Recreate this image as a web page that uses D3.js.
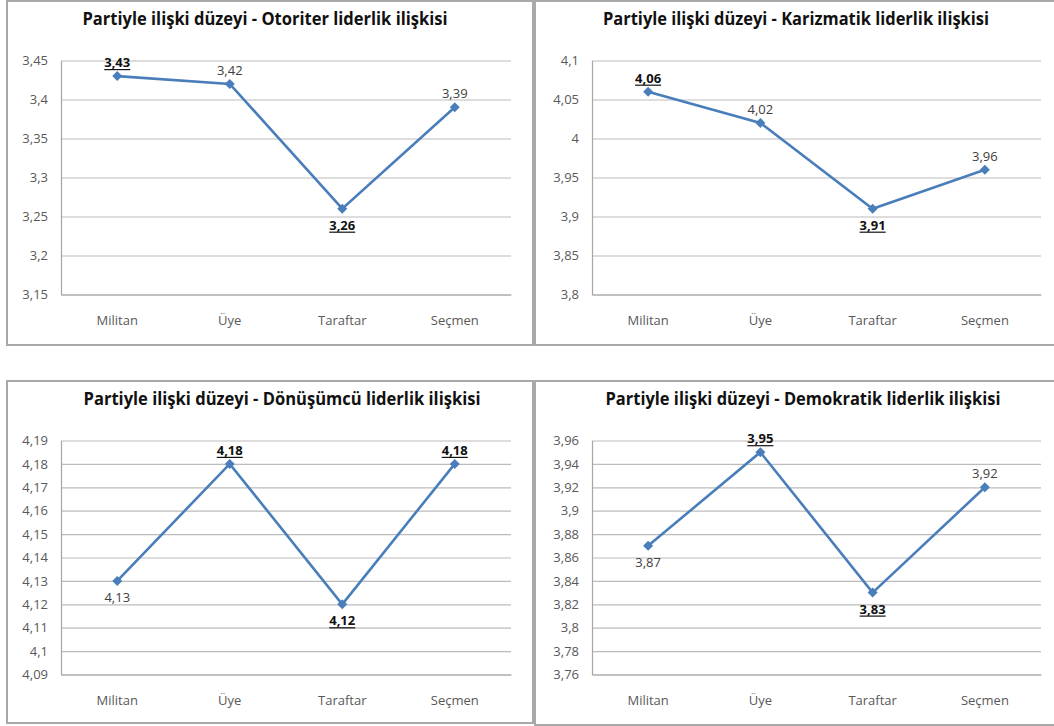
<!DOCTYPE html>
<html>
<head>
<meta charset="utf-8">
<script src="https://cdn.jsdelivr.net/npm/d3@7"></script>
<style>
  body { margin: 0; background: #fff; }
  svg { display: block; }
</style>
</head>
<body>
<svg id="chart" width="1054" height="726"></svg>
<script>
// Data
const categories = ["Militan", "Üye", "Taraftar", "Seçmen"];

const otoriterTitle = "Partiyle ilişki düzeyi - Otoriter liderlik ilişkisi";
const otoriterValues = [3.43, 3.42, 3.26, 3.39];
const otoriterTicks = [3.15, 3.2, 3.25, 3.3, 3.35, 3.4, 3.45];

const karizmatikTitle = "Partiyle ilişki düzeyi - Karizmatik liderlik ilişkisi";
const karizmatikValues = [4.06, 4.02, 3.91, 3.96];
const karizmatikTicks = [3.8, 3.85, 3.9, 3.95, 4, 4.05, 4.1];

const donusumcuTitle = "Partiyle ilişki düzeyi - Dönüşümcü liderlik ilişkisi";
const donusumcuValues = [4.13, 4.18, 4.12, 4.18];
const donusumcuTicks = [4.09, 4.1, 4.11, 4.12, 4.13, 4.14, 4.15, 4.16, 4.17, 4.18, 4.19];

const demokratikTitle = "Partiyle ilişki düzeyi - Demokratik liderlik ilişkisi";
const demokratikValues = [3.87, 3.95, 3.83, 3.92];
const demokratikTicks = [3.76, 3.78, 3.8, 3.82, 3.84, 3.86, 3.88, 3.9, 3.92, 3.94, 3.96];

const svg = d3.select("#chart");
const font = "'Open Sans', 'Liberation Sans', sans-serif";
const lineColor = "#4a7ebb";

// comma decimal, no trailing zeros
const fmt = (v) => String(+v.toFixed(2)).replace(".", ",");

function drawPanel(opts) {
  const { x0, y0, w, h, title, titleX, titleW, values, ticks, left, right } = opts;

  const panel = svg.append("g").attr("transform", `translate(${x0},${y0})`);

  // frame
  panel.append("rect")
    .attr("x", 0).attr("y", 0)
    .attr("width", w).attr("height", h)
    .attr("fill", "#fff")
    .attr("stroke", "#a9a9a9")
    .attr("stroke-width", 2);

  // title
  panel.append("text")
    .attr("x", titleX)
    .attr("y", 24)
    .attr("text-anchor", "middle")
    .attr("textLength", titleW)
    .attr("lengthAdjust", "spacingAndGlyphs")
    .style("font-family", font)
    .style("font-size", "17px")
    .style("font-weight", "bold")
    .attr("fill", "#111")
    .text(title);

  const plotTop = 59.5, plotBottom = 293.5;
  const plotW = right - left;

  const xScale = d3.scaleBand().domain(categories).range([left, right]);
  const yScale = d3.scaleLinear()
    .domain(d3.extent(ticks))
    .range([plotBottom, plotTop]);

  // grid lines
  panel.append("g")
    .attr("transform", `translate(${left},0)`)
    .call(d3.axisLeft(yScale).tickValues(ticks).tickSize(-plotW).tickFormat(""))
    .call((g) => g.select(".domain").remove())
    .call((g) => g.selectAll(".tick line").attr("stroke", "#bcbcbc").attr("stroke-width", 1.2));

  // y axis labels + axis line
  const yAxis = panel.append("g")
    .attr("transform", `translate(${left},0)`)
    .call(d3.axisLeft(yScale).tickValues(ticks).tickSize(0).tickPadding(13).tickFormat(fmt));
  yAxis.select(".domain").attr("stroke", "#a6a6a6").attr("stroke-width", 1.2);
  yAxis.selectAll("text")
    .style("font-family", font)
    .style("font-size", "13px")
    .attr("fill", "#595959");

  // x axis
  const xAxis = panel.append("g")
    .attr("transform", `translate(0,${plotBottom})`)
    .call(d3.axisBottom(xScale).tickSize(0).tickPadding(21));
  xAxis.select(".domain").attr("stroke", "#a6a6a6").attr("stroke-width", 1.2);
  xAxis.selectAll("text")
    .style("font-family", font)
    .style("font-size", "13px")
    .attr("fill", "#595959");

  const pts = values.map((v, i) => ({ cat: categories[i], v, i }));
  const cx = (d) => xScale(d.cat) + xScale.bandwidth() / 2;

  // line
  const line = d3.line().x(cx).y((d) => yScale(d.v));
  panel.append("path")
    .datum(pts)
    .attr("fill", "none")
    .attr("stroke", lineColor)
    .attr("stroke-width", 2.6)
    .attr("d", line);

  // diamond markers
  panel.selectAll(".marker")
    .data(pts)
    .join("path")
    .attr("class", "marker")
    .attr("d", d3.symbol().type(d3.symbolSquare).size(50)())
    .attr("fill", lineColor)
    .attr("transform", (d) => `translate(${cx(d)},${yScale(d.v)}) rotate(45)`);

  // data labels: extremes are bold + underlined, local minima get the label below
  const maxV = d3.max(values), minV = d3.min(values);
  const isBelow = (d) => {
    const prev = values[d.i - 1], next = values[d.i + 1];
    return (prev === undefined || d.v < prev) && (next === undefined || d.v < next);
  };

  pts.forEach((d) => {
    const strong = d.v === maxV || d.v === minV;
    const ty = yScale(d.v) + (isBelow(d) ? 21 : -9);
    const t = panel.append("text")
      .attr("x", cx(d))
      .attr("y", ty)
      .attr("text-anchor", "middle")
      .style("font-family", font)
      .style("font-size", "13px")
      .style("font-weight", strong ? "bold" : "normal")
      .attr("fill", strong ? "#111" : "#404040")
      .text(fmt(d.v));
    if (strong) {
      const tw = t.node().getComputedTextLength();
      panel.append("line")
        .attr("x1", cx(d) - tw / 2).attr("x2", cx(d) + tw / 2)
        .attr("y1", ty + 2.5).attr("y2", ty + 2.5)
        .attr("stroke", "#111")
        .attr("stroke-width", 1.2);
    }
  });
}

drawPanel({ x0: 7, y0: 1, w: 526, h: 344, title: otoriterTitle, titleX: 258, titleW: 365,
  values: otoriterValues, ticks: otoriterTicks, left: 54, right: 504 });
drawPanel({ x0: 535, y0: 1, w: 530, h: 344, title: karizmatikTitle, titleX: 261, titleW: 386,
  values: karizmatikValues, ticks: karizmatikTicks, left: 57, right: 506 });
drawPanel({ x0: 7, y0: 381, w: 526, h: 342, title: donusumcuTitle, titleX: 275, titleW: 397,
  values: donusumcuValues, ticks: donusumcuTicks, left: 54, right: 504 });
drawPanel({ x0: 535, y0: 381, w: 530, h: 344, title: demokratikTitle, titleX: 268, titleW: 395,
  values: demokratikValues, ticks: demokratikTicks, left: 57, right: 506 });
</script>
</body>
</html>
